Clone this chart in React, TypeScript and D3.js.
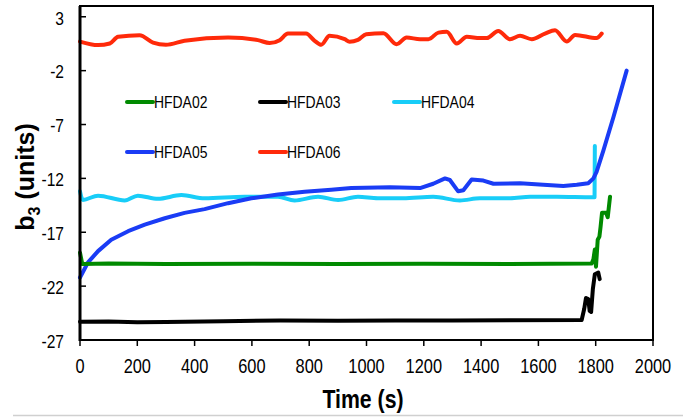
import React from "react";
import * as d3 from "d3";

const xTicks = [0, 200, 400, 600, 800, 1000, 1200, 1400, 1600, 1800, 2000];
const yTicks = [-27, -22, -17, -12, -7, -2, 3];

const hfda02: [number, number][] = [
  [0, -18.9], [8, -19.95], [100, -19.9], [300, -19.95], [600, -19.92], [900, -19.95],
  [1200, -19.92], [1500, -19.95], [1786, -19.9], [1792, -19.5], [1797, -18.6], [1801, -20.2],
  [1807, -17.7], [1813, -17.4], [1817, -16.5], [1822, -15.2], [1836, -15.2], [1842, -15.6], [1850, -13.7],
];
const hfda03: [number, number][] = [
  [0, -25.3], [100, -25.28], [200, -25.35], [300, -25.32], [500, -25.25], [700, -25.2],
  [900, -25.22], [1100, -25.18], [1300, -25.2], [1500, -25.17], [1751, -25.15], [1760, -24.1],
  [1766, -23.1], [1774, -23.2], [1779, -24.3], [1784, -24.4], [1790, -22.3], [1797, -20.9],
  [1809, -20.75], [1814, -21.35],
];
const hfda04: [number, number][] = [
  [0, -13.2], [10, -14.0], [63, -13.6], [156, -14.05], [202, -13.6], [272, -13.9], [354, -13.55],
  [435, -13.85], [575, -13.7], [691, -13.7], [749, -14.05], [831, -13.7], [901, -14.0], [970, -13.7],
  [1040, -13.85], [1128, -13.85], [1233, -13.7], [1326, -14.05], [1396, -13.85], [1501, -13.85],
  [1571, -13.7], [1664, -13.7], [1790, -13.75], [1796, -13.75], [1797, -9.0],
];
const hfda05: [number, number][] = [
  [0, -21.2], [28, -19.8], [63, -18.75], [109, -17.7], [168, -16.9], [226, -16.3], [296, -15.7],
  [365, -15.2], [435, -14.85], [517, -14.3], [598, -13.85], [691, -13.5], [784, -13.25], [877, -13.05],
  [947, -12.9], [1040, -12.85], [1082, -12.82], [1187, -12.9], [1233, -12.5], [1274, -12.0],
  [1291, -12.15], [1320, -13.2], [1338, -13.1], [1367, -12.1], [1408, -12.2], [1443, -12.5],
  [1536, -12.45], [1617, -12.6], [1687, -12.7], [1734, -12.6], [1774, -12.45], [1792, -12.0],
  [1803, -11.4], [1827, -9.4], [1862, -6.3], [1908, -2.0],
];
const hfda06: [number, number][] = [
  [0, 0.7], [63, 0.37], [104, 0.52], [133, 1.14], [208, 1.29], [255, 0.61], [300, 0.4], [365, 0.77],
  [517, 1.07], [621, 0.83], [662, 0.56], [697, 0.83], [726, 1.44], [789, 1.44], [819, 0.77],
  [842, 0.4], [871, 1.23], [924, 0.92], [941, 0.68], [970, 0.86], [999, 1.38], [1059, 1.47],
  [1105, 0.46], [1140, 1.07], [1187, 0.92], [1216, 0.92], [1251, 1.53], [1280, 1.6], [1315, 0.52],
  [1350, 1.14], [1396, 1.02], [1420, 1.02], [1460, 1.69], [1501, 0.92], [1536, 1.23], [1577, 0.92],
  [1623, 1.44], [1658, 1.75], [1699, 0.7], [1728, 1.32], [1803, 1.02], [1821, 1.44],
];

const seriesNames = ["HFDA02", "HFDA03", "HFDA04", "HFDA05", "HFDA06"];
const seriesData = [hfda02, hfda03, hfda04, hfda05, hfda06];
const colors = ["#008a00", "#000000", "#18cdf8", "#1a3cf5", "#ff2a0a"];
const drawOrder = [2, 3, 0, 1, 4];
const smooth = [false, false, true, false, true];

const L = 80, R = 653, T = 6, B = 340;

function NText(props: { x: number; y: number; sx?: number; size: number; anchor?: string; bold?: boolean; children: React.ReactNode }) {
  const { x, y, sx = 0.82, size, anchor = "start", bold = false, children } = props;
  return (
    <g transform={`translate(${x},${y}) scale(${sx},1)`}>
      <text x={0} y={0} dy="0.36em" textAnchor={anchor} fontSize={size} fontWeight={bold ? "bold" : "normal"}>{children}</text>
    </g>
  );
}

export default function App() {
  const x = d3.scaleLinear().domain([0, 2000]).range([L, R]);
  const y = d3.scaleLinear().domain([-27, 4]).range([B, T]);
  const lineStraight = d3.line<[number, number]>().x(d => x(d[0])).y(d => y(d[1]));
  const lineSmooth = d3.line<[number, number]>().x(d => x(d[0])).y(d => y(d[1])).curve(d3.curveMonotoneX);
  const font = "'Liberation Sans', Arial, sans-serif";
  const legendPos = [
    [127, 102], [260, 102], [394, 102], [127, 152], [260, 152],
  ];
  return (
    <svg width={696} height={418} style={{ position: "fixed", left: 0, top: 0 }} fontFamily={font}>
      <rect x={0} y={0} width={696} height={418} fill="#fff" />
      <line x1={13} x2={683} y1={415.5} y2={415.5} stroke="#d0d0d0" strokeWidth={1.5} />
      {drawOrder.map(i => (
        <path key={i} d={(smooth[i] ? lineSmooth : lineStraight)(seriesData[i]) || ""} fill="none" stroke={colors[i]} strokeWidth={4}
          strokeLinejoin="round" strokeLinecap="round" />
      ))}
      <rect x={L} y={T} width={R - L} height={B - T} fill="none" stroke="#000" strokeWidth={2} />
      <line x1={L} x2={L} y1={T} y2={B + 1} stroke="#000" strokeWidth={3} />
      {yTicks.map(t => (
        <g key={t}>
          <line x1={L} x2={L + 6} y1={y(t)} y2={y(t)} stroke="#000" strokeWidth={1.5} />
          <NText x={64} y={y(t) + 1} size={19} anchor="end">{t}</NText>
        </g>
      ))}
      {xTicks.map(t => (
        <g key={t}>
          <line x1={x(t)} x2={x(t)} y1={B} y2={B + 6} stroke="#000" strokeWidth={1.5} />
          <NText x={x(t)} y={366} size={20} anchor="middle">{t}</NText>
        </g>
      ))}
      <NText x={363} y={399} size={25} sx={0.85} anchor="middle" bold>Time (s)</NText>
      <text transform="translate(34,177) rotate(-90)" textAnchor="middle" fontSize={25} fontWeight="bold">
        b<tspan fontSize={16} dy={6}>3</tspan><tspan dy={-6}> (units)</tspan>
      </text>
      {seriesNames.map((n, i) => (
        <g key={n}>
          <line x1={legendPos[i][0]} x2={legendPos[i][0] + 26} y1={legendPos[i][1]} y2={legendPos[i][1]}
            stroke={colors[i]} strokeWidth={4} strokeLinecap="round" />
          <NText x={legendPos[i][0] + 27} y={legendPos[i][1]} size={17}>{n}</NText>
        </g>
      ))}
    </svg>
  );
}
